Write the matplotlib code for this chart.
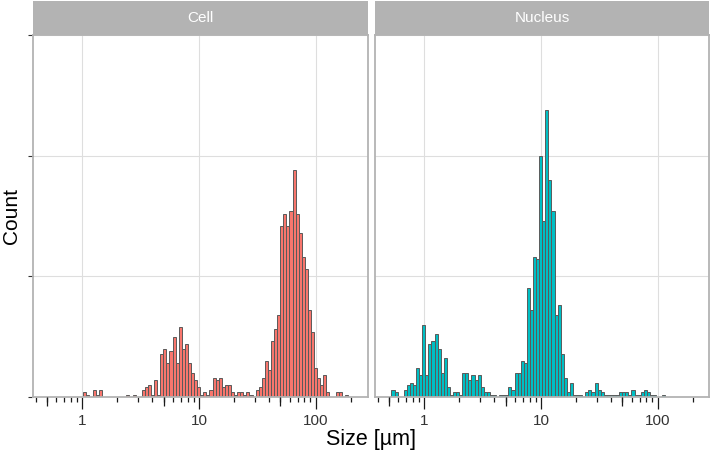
import numpy as np
import matplotlib.pyplot as plt

plt.rcParams['font.family'] = ['Liberation Sans', 'DejaVu Sans']

# shared histogram bins, in log10(size / µm)
log_lo = -0.2807
bin_w = 0.02637

cell_counts = [
    0, 0, 0, 0, 0, 0, 0, 0, 0, 0,
    0, 2, 1, 0, 3, 1, 3, 0, 0, 0,
    0, 0, 0, 0, 0, 1, 0, 1, 0, 0,
    3, 4, 5, 1, 7, 1, 18, 20, 14, 19,
    25, 14, 29, 20, 22, 14, 10, 7, 4, 1,
    2, 1, 3, 8, 7, 8, 4, 5, 5, 2,
    1, 2, 2, 1, 2, 1, 0, 3, 4, 8,
    15, 11, 23, 28, 34, 71, 76, 71, 77, 94,
    76, 68, 58, 53, 36, 27, 12, 8, 5, 9,
    2, 0, 0, 2, 2, 0, 1, 0,
]
nucleus_counts = [
    3, 2, 0, 0, 3, 5, 6, 5, 12, 9,
    30, 9, 22, 23, 26, 20, 10, 16, 4, 1,
    2, 2, 1, 10, 10, 7, 9, 7, 9, 4,
    2, 2, 1, 1, 0, 1, 1, 1, 4, 3,
    10, 10, 15, 14, 45, 36, 58, 57, 100, 73,
    119, 90, 77, 34, 38, 18, 8, 2, 6, 1,
    1, 1, 0, 2, 3, 2, 6, 3, 2, 1,
    1, 1, 1, 1, 2, 2, 2, 1, 3, 1,
    1, 2, 3, 2, 1, 1, 0, 0, 1, 0,
    0, 0, 0, 0, 0, 0, 0, 0,
]

panels = ["Cell", "Nucleus"]
fills = ["#F8766D", "#00BFC4"]
x_breaks = [1, 10, 100]
x_labels = ["1", "10", "100"]
y_breaks = [0, 50, 100, 150]

W, H = 710, 457
fig = plt.figure(figsize=(W / 100, H / 100), dpi=100)


def px_axes(l, t, r, b):
    return fig.add_axes([l / W, 1 - b / H, (r - l) / W, (b - t) / H])


edges = 10 ** (log_lo + bin_w * np.arange(len(cell_counts) + 1))
widths = np.diff(edges)
xlim = (10 ** -0.422, 10 ** 2.445)

# log ticks: decades long, 5s mid, rest short (like annotation_logticks)
minor = [m * 10.0 ** d for d in range(-1, 3) for m in range(2, 10)]
minor = [v for v in minor if xlim[0] <= v <= xlim[1]]
mids = [v for v in minor if round(v / 10 ** np.floor(np.log10(v))) == 5]

lefts = [33, 375]
pw = 334.5
for i, (name, counts, fill) in enumerate(zip(panels, [cell_counts, nucleus_counts], fills)):
    l = lefts[i]
    ax = px_axes(l, 35, l + pw, 397)
    counts = np.asarray(counts)
    keep = counts > 0
    ax.bar(edges[:-1][keep], counts[keep], width=widths[keep], align='edge',
           color=fill, edgecolor='#5a5a5a', linewidth=0.7, zorder=2)
    ax.set_xscale('log')
    ax.set_xlim(*xlim)
    ax.set_ylim(0, 150)
    ax.set_xticks(x_breaks)
    ax.set_xticklabels(x_labels)
    ax.set_xticks(minor, minor=True)
    ax.xaxis.set_minor_formatter(plt.NullFormatter())
    ax.set_yticks(y_breaks)
    ax.grid(True, which='major', color='#DEDEDE', linewidth=0.8, zorder=0)
    ax.set_axisbelow(True)
    for s in ax.spines.values():
        s.set_color('#B3B3B3')
        s.set_linewidth(1.3)
    ax.tick_params(axis='x', which='major', direction='out', length=8.6, width=0.9,
                   color='#1a1a1a', labelsize=11, labelcolor='#333333', pad=3.5)
    ax.tick_params(axis='x', which='minor', direction='out', length=3.3, width=0.9,
                   color='#1a1a1a')
    # mid ticks at 0.5, 5, 50
    ax.vlines(mids, -8.5 / 362 * 150, 0, color='#1a1a1a', linewidth=0.9,
              clip_on=False, zorder=3)
    if i == 0:
        ax.tick_params(axis='y', direction='out', length=3.5, width=0.8,
                       color='#333333', labelleft=False)
    else:
        ax.tick_params(axis='y', length=0, labelleft=False)

    st = px_axes(l, 1, l + pw, 35)
    st.set_facecolor('#B3B3B3')
    st.set_xticks([])
    st.set_yticks([])
    for s in st.spines.values():
        s.set_visible(False)
    st.text(0.5, 0.5, name, color='white', fontsize=11, ha='center', va='center',
            transform=st.transAxes)

fig.text(11 / W, 1 - 216 / H, "Count", fontsize=15, rotation=90,
         ha='center', va='center')
fig.text(371 / W, 1 - 440 / H, "Size [µm]", fontsize=15.5, ha='center', va='center')

fig.savefig('out.png', dpi=100)
